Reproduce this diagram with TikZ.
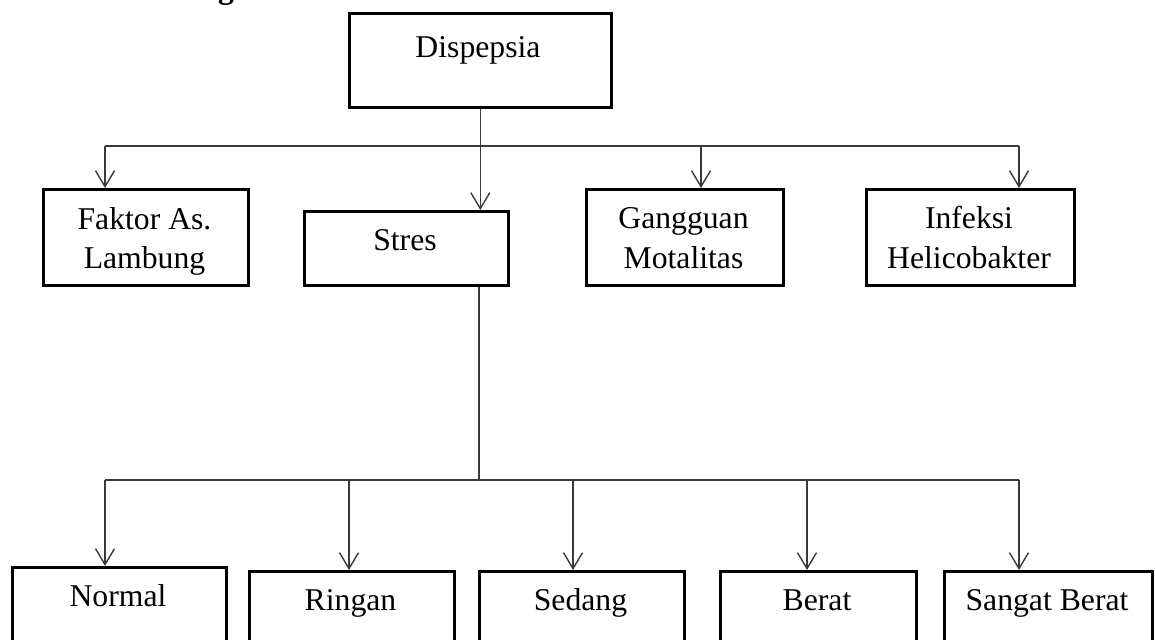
\documentclass[tikz,border=0pt]{standalone}
\usepackage{fontspec}
\setmainfont{Liberation Serif}
\usetikzlibrary{arrows.meta}
\definecolor{linegray}{HTML}{3A3A3A}
\begin{document}
\begin{tikzpicture}[x=1pt,y=-1pt,
  boxnode/.style={draw=black,line width=2.6pt,inner sep=0pt,anchor=north west},
  txt/.style={font=\fontsize{31.7}{39}\selectfont,inner sep=0pt,anchor=base},
  conn/.style={draw=linegray,line width=1.4pt},
  arr/.style={conn,-{Straight Barb[length=16pt,width=19pt,line width=1.4pt]}}]
\useasboundingbox (0,0) rectangle (1155,639);
\clip (0,0) rectangle (1155,639);
\fill[white] (0,0) rectangle (1155,639);

% cut-off heading fragment
\node[font=\bfseries\fontsize{31.7}{39}\selectfont,inner sep=0pt,anchor=base] (hd) at (226,-1) {g};

% boxes
\node[boxnode,minimum width=262,minimum height=94] (dis) at (348,12) {};
\node[boxnode,minimum width=205,minimum height=96] (fak) at (42,188) {};
\node[boxnode,minimum width=204,minimum height=74] (str) at (303,210) {};
\node[boxnode,minimum width=197,minimum height=96] (gan) at (585,188) {};
\node[boxnode,minimum width=208,minimum height=96] (inf) at (865,188) {};
\node[boxnode,minimum width=214,minimum height=120] (nor) at (11,566) {};
\node[boxnode,minimum width=205,minimum height=120] (rin) at (248,570) {};
\node[boxnode,minimum width=205,minimum height=120] (sed) at (478,570) {};
\node[boxnode,minimum width=196,minimum height=120] (ber) at (719,570) {};
\node[boxnode,minimum width=208,minimum height=120] (san) at (943,570) {};

% texts
\node[txt] (tdis) at (478,58) {Dispepsia};
\node[txt] (tfak1) at (144.5,229) {Faktor As.};
\node[txt] (tfak2) at (144.5,268) {Lambung};
\node[txt] (tstr) at (405,250) {Stres};
\node[txt] (tgan1) at (683.5,228) {Gangguan};
\node[txt] (tgan2) at (683.5,268) {Motalitas};
\node[txt] (tinf1) at (969,228) {Infeksi};
\node[txt] (tinf2) at (969,268) {Helicobakter};
\node[txt] (tnor) at (118,606) {Normal};
\node[txt] (trin) at (350.5,610) {Ringan};
\node[txt] (tsed) at (580.5,610) {Sedang};
\node[txt] (tber) at (817,610) {Berat};
\node[txt] (tsan) at (1047,610) {Sangat Berat};

% bus coordinates
\coordinate (a1) at (105,146);
\coordinate (a3) at (701,146);
\coordinate (a4) at (1019,146);
\coordinate (s0) at (479,480);
\coordinate (b1) at (105,480);
\coordinate (b2) at (349,480);
\coordinate (b3) at (573,480);
\coordinate (b4) at (807,480);
\coordinate (b5) at (1019,480);

% top level connectors
\draw[arr] (dis.south) -- (dis.south |- str.north);
\draw[conn] (a1) -- (a4);
\draw[arr] (a1) -- (a1 |- fak.north);
\draw[arr] (a3) -- (a3 |- gan.north);
\draw[arr] (a4) -- (a4 |- inf.north);

% stres to levels
\draw[conn] (s0 |- str.south) -- (s0);
\draw[conn] (b1) -- (b5);
\draw[arr] (b1) -- (b1 |- nor.north);
\draw[arr] (b2) -- (b2 |- rin.north);
\draw[arr] (b3) -- (b3 |- sed.north);
\draw[arr] (b4) -- (b4 |- ber.north);
\draw[arr] (b5) -- (b5 |- san.north);
\end{tikzpicture}
\end{document}
